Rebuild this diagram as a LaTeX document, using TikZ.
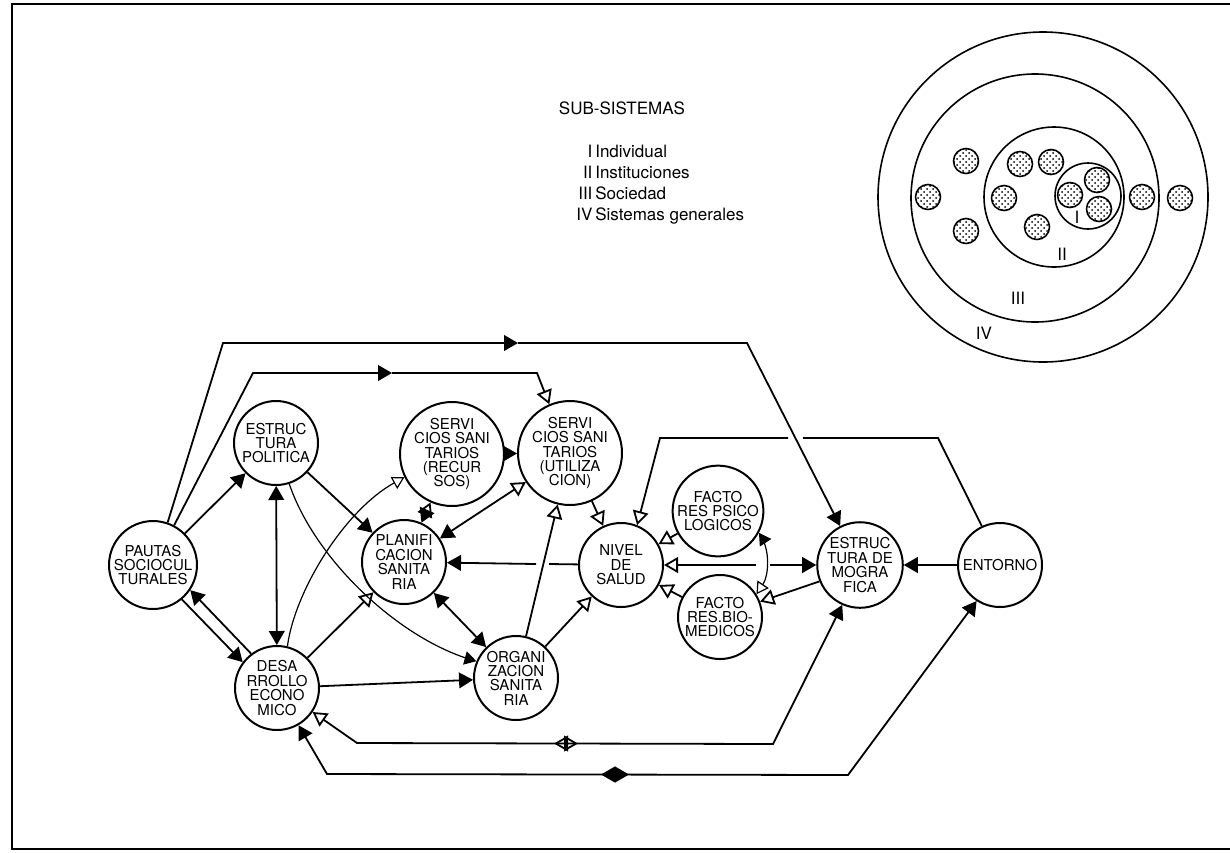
\documentclass[tikz,border=0pt]{standalone}
\usepackage{fontspec}
\setmainfont{TeX Gyre Heros}
\usepackage{tikz}
\usetikzlibrary{arrows}
\usetikzlibrary{patterns}
\newcommand{\circfont}{\fontsize{7.5}{7.2}\selectfont}
\newcommand{\legfont}{\fontsize{8.5}{10.5}\selectfont}

\begin{document}
\begin{tikzpicture}[x=0.5pt,y=-0.5pt,>=triangle 60,
  sistema/.style={circle,draw,line width=1pt,minimum size=42pt,inner sep=0pt,align=center,font=\circfont},
  liga/.style={line width=0.9pt},
  fina/.style={line width=0.6pt},
  anillo/.style={line width=0.8pt}]
\useasboundingbox (0,0) rectangle (1230,852);
% marco
\draw[line width=1.2pt] (1230,4) -- (12,4) -- (12,849) -- (1230,849);

% leyenda
\node[font=\legfont] (titulo) at (622,108) {SUB-SISTEMAS};
\node[font=\legfont,anchor=north west,inner sep=0pt] (lista) at (576,142) {%
  \begin{tabular}{@{}r@{\,}l@{}}
  I & Individual\\ II & Instituciones\\ III & Sociedad\\ IV & Sistemas generales
  \end{tabular}};

% sub-sistemas
\draw[anillo] (1043,197) circle (165);
\draw[anillo] (1035,198) circle (124);
\draw[anillo] (1054,197) circle (70);
\draw[anillo] (1088,196) circle (33);
\foreach \x/\y in {966/161,928/197,966/231,1020/164,1051/162,1004/198,1037/227,1070/195,1097/180,1099/209,1142/197,1180/198}
  \draw[anillo,pattern=crosshatch dots] (\x,\y) circle (12.5);
\node[font=\legfont] (uno) at (1077,217) {I};
\node[font=\legfont] (dos) at (1062,254) {II};
\node[font=\legfont] (tres) at (1018,298) {III};
\node[font=\legfont] (cuatro) at (984,333) {IV};

% nodos
\node[sistema] (paut) at (153,565) {PAUTAS\\SOCIOCUL\\TURALES};
\node[sistema] (epol) at (276,443) {ESTRUC\\TURA\\POLITICA};
\node[sistema] (srec) at (452,454) {SERVI\\CIOS SANI\\TARIOS\\(RECUR\\SOS)};
\node[sistema] (sutil) at (570,453) {SERVI\\CIOS SANI\\TARIOS\\(UTILIZA\\CION)};
\node[sistema] (plan) at (404,562) {PLANIFI\\CACION\\SANITA\\RIA};
\node[sistema] (nivel) at (621,565) {NIVEL\\DE\\SALUD};
\node[sistema] (psico) at (718,511) {FACTO\\RES PSICO\\LOGICOS};
\node[sistema] (bio) at (720,617) {FACTO\\RES.BIO-\\MEDICOS};
\node[sistema] (org) at (516,678) {ORGANI\\ZACION\\SANITA\\RIA};
\node[sistema] (desa) at (277,688) {DESA\\RROLLO\\ECONO\\MICO};
\node[sistema] (demo) at (860,565) {ESTRUC\\TURA DE\\MOGRA\\FICA};
\node[sistema] (ent) at (1000,565) {ENTORNO};

% recorridos de arriba
\coordinate (a1) at (223,343);
\coordinate (a2) at (518,343);
\coordinate (a3) at (747,343);
\draw[liga,->] (paut.71) -- (a1) -- (a2);
\draw[liga,->] (a2) -- (a3) -- (demo.117);
\coordinate (b1) at (253,373);
\coordinate (b2) at (392,373);
\coordinate (b3) at (537,373);
\draw[liga,->] (paut.62) -- (b1) -- (b2);
\draw[liga,-open triangle 60] (b2) -- (b3) -- (sutil.113);
\coordinate (e1) at (938,438);
\coordinate (e2) at (803,438);
\coordinate (e3) at (788,438);
\coordinate (e4) at (660,438);
\draw[liga] (ent.115) -- (e1) -- (e2);
\draw[liga,-open triangle 60] (e3) -- (e4) -- (nivel.68);

% conexiones
\draw[liga,->] (paut) -- (epol);
\draw[liga,->] (paut.-50) -- (desa.143);
\draw[liga,->] (desa.127) -- (paut.-34);
\draw[liga,->] (epol) -- (plan);
\draw[liga,<->] (epol) -- (desa);
\draw[fina,->] (epol.-72) .. controls (315,560) and (400,640) .. (org.157);
\draw[fina,-open triangle 60] (desa.76) .. controls (295,590) and (345,510) .. (srec.206);
\draw[liga,-open triangle 60] (desa) -- (plan);
\draw[liga,->] (desa) -- (org);
\draw[liga,<->] (plan) -- (org);
\draw[liga,triangle 60-open triangle 60] (plan) -- (srec);
\draw[liga,triangle 60-open triangle 60] (plan) -- (sutil);
\draw[liga,->] (srec) -- (sutil);
\draw[liga,-open triangle 60] (org) -- (sutil);
\draw[liga,-open triangle 60] (sutil) -- (nivel);
\draw[liga,-open triangle 60] (org) -- (nivel);
\draw[liga,-open triangle 60] (psico) -- (nivel);
\draw[liga,-open triangle 60] (bio) -- (nivel);
\draw[fina,triangle 60-open triangle 60] (psico.-28) .. controls +(12,18) and +(12,-18) .. (bio.32);
\draw[liga,-open triangle 60] (demo.-158) -- (bio.21);
\draw[liga,->] (ent) -- (demo);
\coordinate (n1) at (549,564);
\coordinate (n2) at (536,564);
\draw[liga] (nivel) -- (n1);
\draw[liga,->] (n2) -- (plan);
\coordinate (d1) at (770,565);
\coordinate (d2) at (756,565);
\draw[liga,->] (d1) -- (demo);
\draw[liga,-open triangle 60] (d2) -- (nivel);

% recorridos de abajo
\coordinate (r1) at (357,743);
\coordinate (r2) at (773,744);
\draw[liga,open triangle 60-triangle 60] (desa.-34) -- (r1) -- (r2) -- (demo.-114);
\coordinate (p1) at (554,743.5);
\coordinate (p2) at (578,743.5);
\draw[liga,open triangle 60-open triangle 60] (p1) -- (p2);
\coordinate (s1) at (327,774);
\coordinate (s2) at (848,775);
\draw[liga,<->] (desa.-60) -- (s1) -- (s2) -- (ent.-123);
\coordinate (q1) at (601,774.5);
\coordinate (q2) at (629,774.5);
\draw[liga,<->] (q1) -- (q2);
\end{tikzpicture}
\end{document}
